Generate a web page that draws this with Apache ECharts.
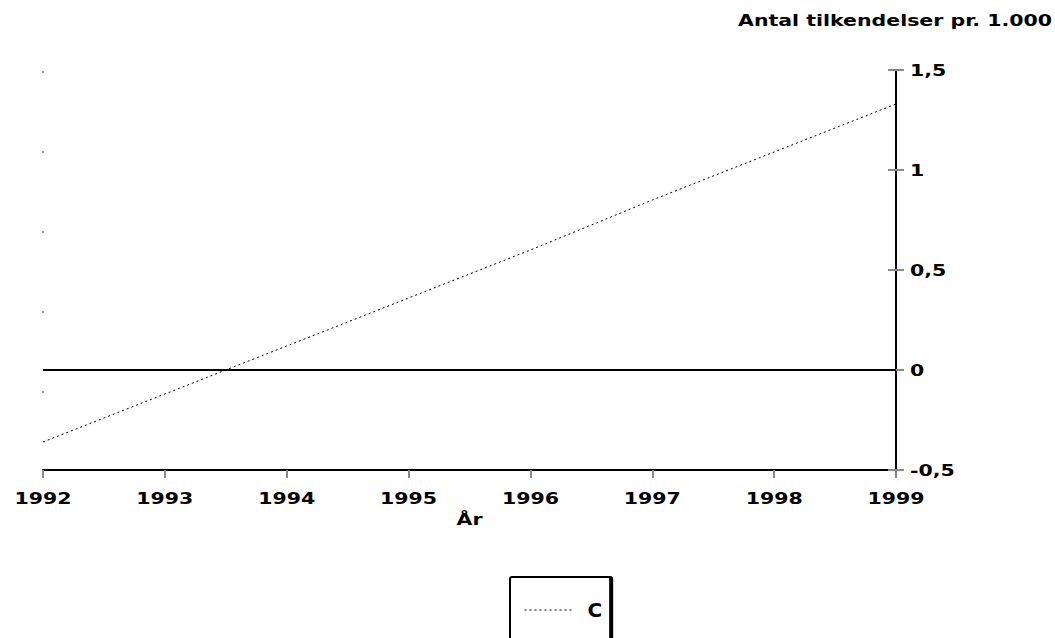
<!DOCTYPE html>
<html>
<head>
<meta charset="utf-8">
<script src="https://cdn.jsdelivr.net/npm/echarts@6/dist/echarts.min.js"></script>
<style>
html,body{margin:0;padding:0;background:#fff}
#c{width:1055px;height:638px}
</style>
</head>
<body>
<div id="c"></div>
<script>
var years = ['1992','1993','1994','1995','1996','1997','1998','1999'];
var seriesC = [-0.36, -0.12, 0.12, 0.36, 0.60, 0.85, 1.09, 1.33];
var seriesName = 'C';
var yTitle = 'Antal tilkendelser pr. 1.000';
var xTitle = 'År';

var FONT = '"DejaVu Sans", Verdana, sans-serif';
var chart = echarts.init(document.getElementById('c'), null, { renderer: 'svg' });
function fmt(v){ return String(v).replace('.', ','); }
chart.setOption({
  animation: false,
  backgroundColor: '#fff',
  grid: [
    { left: 43, right: 159, top: 70, bottom: 168 },
    { left: 42, right: 160, top: 72, bottom: 166 }
  ],
  graphic: [{
    type: 'text', right: 3, top: 12, z: 10,
    style: {
      text: yTitle, textAlign: 'right',
      font: 'bold 16px ' + FONT, fill: '#000'
    }
  }],
  legend: {
    data: [seriesName],
    left: 510, top: 577,
    padding: [23, 8, 40, 14],
    itemWidth: 50, itemHeight: 14, itemGap: 6,
    borderColor: '#000', borderWidth: 2, borderRadius: 2,
    backgroundColor: '#fff',
    shadowColor: '#000', shadowOffsetX: 2, shadowOffsetY: 0, shadowBlur: 0,
    itemStyle: { opacity: 0 },
    lineStyle: { color: '#000', width: 1, type: [2, 3] },
    textStyle: { fontFamily: FONT, fontWeight: 'bold', fontSize: 20, color: '#000', padding: [0, 0, 0, 8] }
  },
  xAxis: [
    {
      type: 'category', data: years, boundaryGap: false, gridIndex: 0,
      name: xTitle, nameLocation: 'middle', nameGap: 41,
      nameTextStyle: { fontFamily: FONT, fontWeight: 'bold', fontSize: 16, color: '#000' },
      axisLine: { onZero: false, lineStyle: { color: '#000', width: 2 } },
      axisTick: { alignWithLabel: true, length: 8, lineStyle: { color: '#888', width: 2 } },
      axisLabel: { fontFamily: FONT, fontWeight: 'bold', fontSize: 16, color: '#000', margin: 20 },
      splitLine: { show: false }
    },
    { type: 'category', data: years, gridIndex: 1, show: false }
  ],
  yAxis: [
    {
      type: 'value', position: 'right', min: -0.5, max: 1.5, interval: 0.5, gridIndex: 0,
      axisLine: { show: true, lineStyle: { color: '#000', width: 2 } },
      axisTick: { show: true, length: 8, lineStyle: { color: '#888', width: 2 } },
      axisLabel: { fontFamily: FONT, fontWeight: 'bold', fontSize: 16, color: '#000', margin: 14, formatter: fmt },
      splitLine: { show: false }
    },
    {
      type: 'value', position: 'right', min: -0.5, max: 1.5, interval: 0.5, gridIndex: 0,
      axisLine: { show: false },
      axisTick: { show: true, inside: true, length: 8, lineStyle: { color: '#888', width: 2 } },
      axisLabel: { show: false },
      splitLine: { show: false }
    },
    {
      type: 'value', position: 'left', min: -0.5, max: 1.5, interval: 0.4, gridIndex: 1,
      axisLine: { show: false },
      axisTick: { show: true, inside: true, length: 2, lineStyle: { color: '#999', width: 2 } },
      axisLabel: { show: false },
      splitLine: { show: false }
    }
  ],
  series: [
    {
      name: seriesName, type: 'line', data: seriesC, xAxisIndex: 0, yAxisIndex: 0,
      symbol: 'none', z: 3,
      lineStyle: { color: '#000', width: 1, type: [2, 3] },
      itemStyle: { color: '#000' },
      markLine: {
        silent: true, symbol: 'none', label: { show: false },
        lineStyle: { color: '#000', width: 2, type: 'solid' },
        data: [{ yAxis: 0 }]
      }
    }
  ]
});

// Reference font is a wide (Verdana-like) bold face: stretch glyphs horizontally.
function widen() {
  var zr = chart.getZr();
  if (zr && zr.flush) zr.flush();
  var texts = document.querySelectorAll('#c svg text');
  texts.forEach(function (t) {
    if (t.getAttribute('data-wide')) return;
    var content = t.textContent;
    var k = content === seriesName ? 1.0 : 1.28;
    var len = t.getComputedTextLength();
    if (!len) return;
    t.setAttribute('lengthAdjust', 'spacingAndGlyphs');
    t.setAttribute('textLength', (len * k).toFixed(2));
    t.setAttribute('data-wide', '1');
  });
}
widen();
setTimeout(widen, 0);
setTimeout(widen, 100);
</script>
</body>
</html>
